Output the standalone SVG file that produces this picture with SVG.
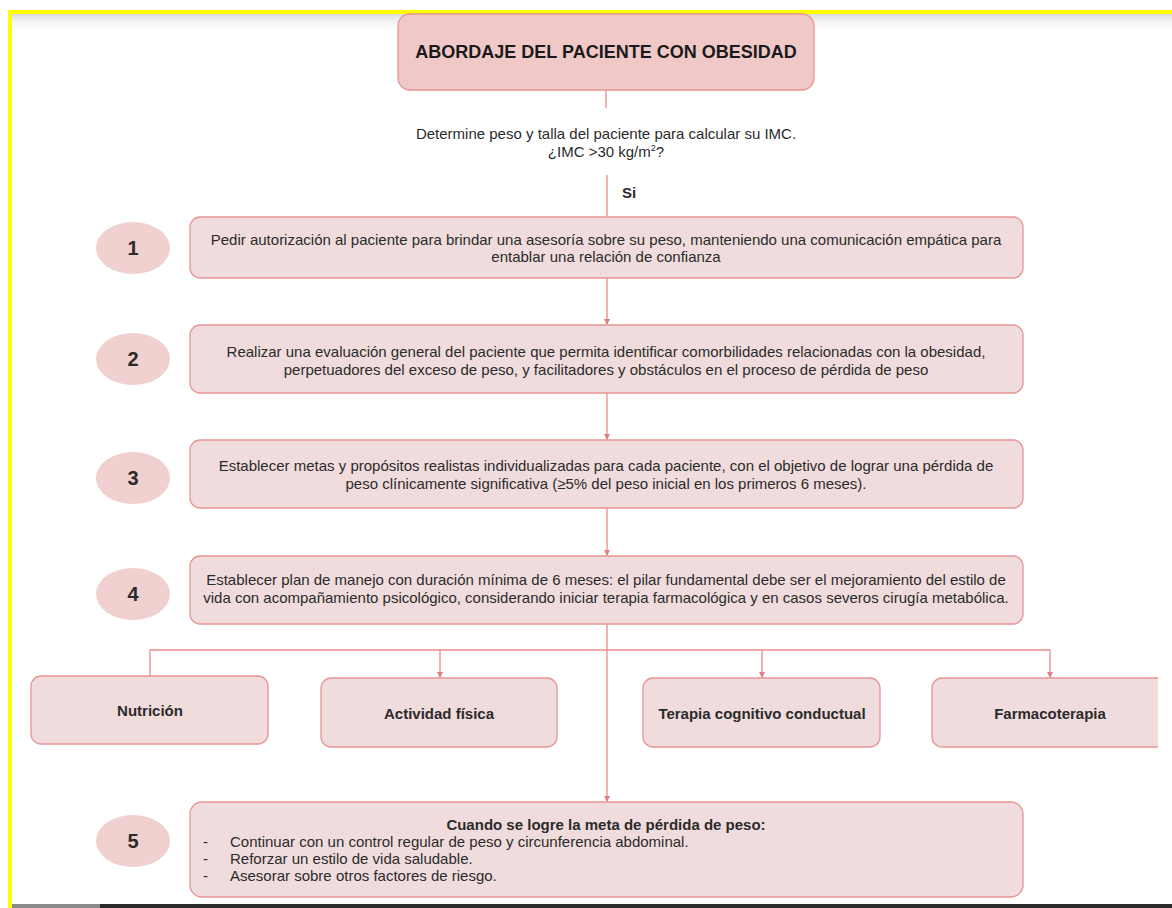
<svg xmlns="http://www.w3.org/2000/svg" width="1172" height="908" viewBox="0 0 1172 908">
<style>
text{font-family:"Liberation Sans",Arial,sans-serif;fill:#2b2b2b}
.t{font-size:15px;text-anchor:middle}
.b{font-size:15px;font-weight:bold;text-anchor:middle}
.l{font-size:15px}
.num{font-size:20px;font-weight:bold;text-anchor:middle}
.title{font-size:18px;font-weight:bold;text-anchor:middle;fill:#1a1a1a}
.box{fill:#f0dcdc;stroke:#e79494;stroke-width:1.3}
.tbox{fill:#f1c8c8;stroke:#e79494;stroke-width:1.3}
.ell{fill:#f1d0d0;stroke:none}
.c{fill:none;stroke:#e88c8c;stroke-width:1.3}
</style>
<defs>
<marker id="ah" viewBox="0 0 6 6" refX="5" refY="3" markerWidth="5" markerHeight="5" orient="auto">
<path d="M0,0 L6,3 L0,6 z" fill="#e07f7f"/>
</marker>
<linearGradient id="sh" x1="0" y1="0" x2="0" y2="1">
<stop offset="0" stop-color="#d8d8d8"/>
<stop offset="1" stop-color="#ffffff" stop-opacity="0"/>
</linearGradient>
<clipPath id="clipR"><rect x="0" y="0" width="1158" height="908"/></clipPath>
</defs>
<rect x="0" y="0" width="1172" height="908" fill="#ffffff"/>
<rect x="10" y="13" width="1162" height="20" fill="url(#sh)"/>
<rect x="12" y="904" width="90" height="4" fill="#8a8a8a"/>
<rect x="100" y="904" width="1072" height="4" fill="#2a2a2a"/>
<rect x="8" y="10" width="1164" height="4" fill="#ffff00"/>
<rect x="8" y="10" width="4" height="898" fill="#ffff00"/>

<g id="connectors">
<line class="c" x1="606" y1="90" x2="606" y2="108"/>
<line class="c" x1="607" y1="175" x2="607" y2="216"/>
<line class="c" x1="607" y1="278" x2="607" y2="324" marker-end="url(#ah)"/>
<line class="c" x1="607" y1="393" x2="607" y2="439" marker-end="url(#ah)"/>
<line class="c" x1="607" y1="508" x2="607" y2="555" marker-end="url(#ah)"/>
<line class="c" x1="607" y1="624" x2="607" y2="801" marker-end="url(#ah)"/>
<polyline class="c" points="150,676 150,650 1050,650 1050,677" marker-end="url(#ah)"/>
<line class="c" x1="440" y1="650" x2="440" y2="677" marker-end="url(#ah)"/>
<line class="c" x1="762" y1="650" x2="762" y2="677" marker-end="url(#ah)"/>
</g>

<g id="title">
<rect class="tbox" x="398" y="14" width="416" height="76" rx="12"/>
<text class="title" x="606" y="58">ABORDAJE DEL PACIENTE CON OBESIDAD</text>
</g>

<g id="question">
<text class="t" x="606" y="139">Determine peso y talla del paciente para calcular su IMC.</text>
<text class="t" x="606" y="157">¿IMC &gt;30 kg/m<tspan font-size="9" dy="-6">2</tspan><tspan dy="6">?</tspan></text>
</g>

<g id="si">
<text class="l" x="622" y="198" font-weight="bold" font-size="15">Si</text>
</g>

<g id="step1">
<ellipse class="ell" cx="133" cy="248" rx="37" ry="26"/>
<text class="num" x="133" y="255">1</text>
<rect class="box" x="190" y="217" width="833" height="61" rx="10"/>
<text class="t" x="606" y="245">Pedir autorización al paciente para brindar una asesoría sobre su peso, manteniendo una comunicación empática para</text>
<text class="t" x="606" y="262">entablar una relación de confianza</text>
</g>

<g id="step2">
<ellipse class="ell" cx="133" cy="359" rx="37" ry="26"/>
<text class="num" x="133" y="366">2</text>
<rect class="box" x="190" y="325" width="833" height="68" rx="10"/>
<text class="t" x="606" y="357">Realizar una evaluación general del paciente que permita identificar comorbilidades relacionadas con la obesidad,</text>
<text class="t" x="606" y="375">perpetuadores del exceso de peso, y facilitadores y obstáculos en el proceso de pérdida de peso</text>
</g>

<g id="step3">
<ellipse class="ell" cx="133" cy="478" rx="37" ry="26"/>
<text class="num" x="133" y="485">3</text>
<rect class="box" x="190" y="440" width="833" height="68" rx="10"/>
<text class="t" x="606" y="471">Establecer metas y propósitos realistas individualizadas para cada paciente, con el objetivo de lograr una pérdida de</text>
<text class="t" x="606" y="489">peso clínicamente significativa (≥5% del peso inicial en los primeros 6 meses).</text>
</g>

<g id="step4">
<ellipse class="ell" cx="133" cy="594" rx="37" ry="26"/>
<text class="num" x="133" y="601">4</text>
<rect class="box" x="190" y="556" width="833" height="68" rx="10"/>
<text class="t" x="606" y="585">Establecer plan de manejo con duración mínima de 6 meses: el pilar fundamental debe ser el mejoramiento del estilo de</text>
<text class="t" x="606" y="603">vida con acompañamiento psicológico, considerando iniciar terapia farmacológica y en casos severos cirugía metabólica.</text>
</g>

<g id="nutricion">
<rect class="box" x="31" y="676" width="237" height="68" rx="10"/>
<text class="b" x="150" y="716">Nutrición</text>
</g>

<g id="actividad">
<rect class="box" x="321" y="678" width="236" height="69" rx="10"/>
<text class="b" x="439" y="719">Actividad física</text>
</g>

<g id="terapia">
<rect class="box" x="643" y="678" width="237" height="69" rx="10"/>
<text class="b" x="762" y="719">Terapia cognitivo conductual</text>
</g>

<g id="farmaco">
<rect class="box" x="932" y="678" width="250" height="69" rx="10" clip-path="url(#clipR)"/>
<text class="b" x="1050" y="719">Farmacoterapia</text>
</g>

<g id="step5">
<ellipse class="ell" cx="133" cy="841" rx="37" ry="26"/>
<text class="num" x="133" y="848">5</text>
<rect class="box" x="190" y="802" width="833" height="95" rx="12"/>
<text class="b" x="606" y="830">Cuando se logre la meta de pérdida de peso:</text>
<text class="l" x="203" y="847">-</text>
<text class="l" x="230" y="847">Continuar con un control regular de peso y circunferencia abdominal.</text>
<text class="l" x="203" y="864">-</text>
<text class="l" x="230" y="864">Reforzar un estilo de vida saludable.</text>
<text class="l" x="203" y="881">-</text>
<text class="l" x="230" y="881">Asesorar sobre otros factores de riesgo.</text>
</g>
</svg>
